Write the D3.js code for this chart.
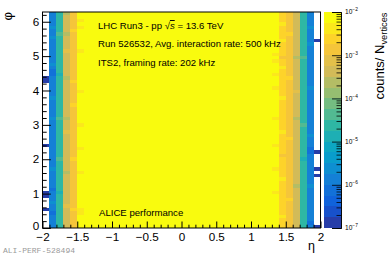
<!DOCTYPE html>
<html><head><meta charset="utf-8">
<script src="https://cdn.jsdelivr.net/npm/d3@7"></script>
<style>body{margin:0;background:#fff}svg{display:block;font-family:"Liberation Sans",Arial,Helvetica,sans-serif}</style>
</head><body><svg id="c" width="391" height="255"></svg>
<script>
// ---------------- data ----------------
const etaRange = [-2, 2];
const phiRange = [0, 2 * Math.PI];
const nEtaBins = 40;
const nPhiBins = 64;
// base log10(counts/N_vertices) for each eta bin (null = empty bin)
const etaBinLog = [null, -5.9, -4.6, -3.4, -2.9, -2.1,
  -1.5, -1.5, -1.5, -1.5, -1.5, -1.5, -1.5, -1.5, -1.5, -1.5, -1.5, -1.5, -1.5, -1.5,
  -1.5, -1.5, -1.5, -1.5, -1.5, -1.5, -1.5, -1.5, -1.5, -1.5, -1.5, -1.5, -1.5,
  -1.9, -2.65, -2.9, -3.4, -4.6, -5.9, null];
// individual cells that differ from their column: [etaBin, phiBin, log10 value]
const cellOverrides = [
  [0, 5, -6.8], [0, 9, -6.9], [0, 10, -6.9], [0, 24, -6.8], [0, 43, -6.9], [0, 44, -6.9],
  [39, 0, -6.8], [39, 15, -6.8], [39, 17, -6.8], [39, 22, -6.8], [39, 55, -6.8],
  [1, 59, -5.65], [1, 56, -5.65], [1, 48, -5.65], [1, 38, -5.65], [1, 32, -5.65], [1, 17, -5.65], [1, 7, -5.65],
  [1, 45, -6.15], [1, 46, -6.15], [1, 11, -6.15], [1, 4, -6.15],
  [2, 57, -4.35], [2, 32, -4.35], [2, 20, -4.35], [2, 45, -4.85], [2, 10, -4.85],
  [3, 63, -3.65], [3, 57, -3.65], [3, 32, -3.65], [3, 16, -3.65], [3, 44, -3.65], [3, 52, -3.15], [3, 28, -3.15], [3, 6, -3.15],
  [4, 58, -2.65], [4, 43, -2.65], [4, 20, -2.65], [4, 5, -2.65], [4, 36, -2.65],
  [5, 61, -2.4], [5, 59, -2.4], [5, 52, -2.4], [5, 40, -2.4], [5, 23, -2.4], [5, 16, -2.4], [5, 5, -2.4], [5, 4, -2.4], [5, 30, -2.4],
  [33, 51, -2.4], [33, 49, -2.4], [33, 45, -2.4], [33, 41, -2.4], [33, 32, -2.4], [33, 24, -2.4], [33, 17, -2.4], [33, 10, -2.4],
  [34, 60, -2.4], [34, 55, -2.4], [34, 47, -2.4], [34, 38, -2.4], [34, 28, -2.4], [34, 14, -2.4], [34, 3, -2.4], [34, 50, -2.9], [34, 21, -2.9],
  [35, 57, -2.65], [35, 44, -2.65], [35, 26, -2.65], [35, 8, -2.65],
  [36, 50, -3.65], [36, 32, -3.65], [36, 12, -3.65], [36, 40, -3.15],
  [37, 50, -4.35], [37, 30, -4.35], [37, 20, -4.85],
  [38, 59, -5.65], [38, 54, -5.65], [38, 41, -5.65], [38, 27, -5.65], [38, 12, -5.65], [38, 22, -6.15], [38, 23, -6.15], [38, 1, -6.15]
];
const zRange = [1e-7, 1e-2];
const nContours = 20;
const xTickValues = [-2, -1.5, -1, -0.5, 0, 0.5, 1, 1.5, 2];
const xTickLabels = ["\u22122", "\u22121.5", "\u22121", "\u22120.5", "0", "0.5", "1", "1.5", "2"];
const yTickValues = [0, 1, 2, 3, 4, 5, 6];
const yTickLabels = ["0", "1", "2", "3", "4", "5", "6"];
const zTickExponents = [-7, -6, -5, -4, -3, -2];
const textLines = ["Run 526532, Avg. interaction rate: 500 kHz", "ITS2, framing rate: 202 kHz"];

// ---------------- palette (ROOT kBird) ----------------
const birdStops = [0, .125, .25, .375, .5, .625, .75, .875, 1];
const birdR = [0.2082, 0.0592, 0.0780, 0.0232, 0.1802, 0.5301, 0.8186, 0.9956, 0.9764];
const birdG = [0.1664, 0.3599, 0.5041, 0.6419, 0.7178, 0.7492, 0.7328, 0.7862, 0.9832];
const birdB = [0.5293, 0.8684, 0.8385, 0.7914, 0.6425, 0.4662, 0.3499, 0.1968, 0.0539];
const bird = d3.scaleLinear().domain(birdStops)
  .range(birdStops.map((s, i) => d3.rgb(birdR[i] * 255, birdG[i] * 255, birdB[i] * 255).toString()))
  .interpolate(d3.interpolateRgb);
const lmin = Math.log10(zRange[0]), lmax = Math.log10(zRange[1]);
const dl = (lmax - lmin) / nContours;
const levelColor = k => bird(Math.floor((k + 0.99) * 255 / nContours) / 254);
const levelOf = l => Math.max(0, Math.min(nContours - 1, Math.floor((l - lmin) / dl)));

// ---------------- layout ----------------
const svg = d3.select("#c");
const L = 42.5, R = 320.5, T = 12, B = 228;
const x = d3.scaleLinear().domain(etaRange).range([L, R]);
const y = d3.scaleLinear().domain(phiRange).range([B, T]);
const z = d3.scaleLog().domain(zRange).range([B, T]);
const PX0 = 323.5, PX1 = 341;

// cells
const dEta = (etaRange[1] - etaRange[0]) / nEtaBins;
const dPhi = (phiRange[1] - phiRange[0]) / nPhiBins;
const ov = new Map(cellOverrides.map(d => [d[0] + "_" + d[1], d[2]]));
const cells = [];
for (let i = 0; i < nEtaBins; i++) for (let j = 0; j < nPhiBins; j++) {
  const k = i + "_" + j;
  const v = ov.has(k) ? ov.get(k) : etaBinLog[i];
  if (v !== null && v !== undefined) cells.push({ i, j, v });
}
svg.append("g").selectAll("rect").data(cells).join("rect")
  .attr("x", d => x(etaRange[0] + d.i * dEta))
  .attr("width", d => x(etaRange[0] + (d.i + 1) * dEta) - x(etaRange[0] + d.i * dEta))
  .attr("y", d => y(phiRange[0] + (d.j + 1) * dPhi))
  .attr("height", d => y(phiRange[0] + d.j * dPhi) - y(phiRange[0] + (d.j + 1) * dPhi))
  .attr("fill", d => levelColor(levelOf(d.v)))
  .attr("shape-rendering", "crispEdges");

// frame
svg.append("rect").attr("x", L).attr("y", T).attr("width", R - L).attr("height", B - T)
  .attr("fill", "none").attr("stroke", "#000").attr("stroke-width", 1);

// x axis
const fs = 11.7;
const gx = svg.append("g").attr("transform", `translate(0,${B})`)
  .call(d3.axisBottom(x).tickValues(xTickValues).tickFormat((d, i) => xTickLabels[i]).tickSize(-6.5).tickPadding(4.6));
const gxm = svg.append("g").attr("transform", `translate(0,${B})`)
  .call(d3.axisBottom(x).tickValues(d3.range(-20, 21).filter(v => v % 5 !== 0).map(v => v / 10)).tickFormat("").tickSize(-3.3));
// y axis
const gy = svg.append("g").attr("transform", `translate(${L},0)`)
  .call(d3.axisLeft(y).tickValues(yTickValues).tickFormat((d, i) => yTickLabels[i]).tickSize(-8.3).tickPadding(3.2));
const gym = svg.append("g").attr("transform", `translate(${L},0)`)
  .call(d3.axisLeft(y).tickValues(d3.range(0, 32).filter(v => v % 5 !== 0).map(v => v / 5)).tickFormat("").tickSize(-4.2));
[gx, gxm, gy, gym].forEach(g => {
  g.select(".domain").remove();
  g.selectAll("line").attr("stroke", "#000");
  g.selectAll("text").attr("font-size", fs).attr("fill", "#000").attr("font-family", null);
  g.attr("font-family", null);
});
// keep the "0" of the phi axis clear of the "-2" of the eta axis
gy.selectAll("text").filter(d => d === 0).attr("dy", "0.1em");

// palette
const levels = d3.range(nContours);
svg.append("g").selectAll("rect").data(levels).join("rect")
  .attr("x", PX0).attr("width", PX1 - PX0)
  .attr("y", k => z(Math.pow(10, lmin + (k + 1) * dl)))
  .attr("height", k => z(Math.pow(10, lmin + k * dl)) - z(Math.pow(10, lmin + (k + 1) * dl)))
  .attr("fill", k => levelColor(k)).attr("shape-rendering", "crispEdges");
const minorZ = [];
zTickExponents.slice(0, -1).forEach(e => { for (let m = 2; m <= 9; m++) minorZ.push(m * Math.pow(10, e)); });
const gz = svg.append("g").attr("transform", `translate(${PX1},0)`)
  .call(d3.axisRight(z).tickValues(zTickExponents.map(e => Math.pow(10, e))).tickFormat("").tickSize(-9));
const gzm = svg.append("g").attr("transform", `translate(${PX1},0)`)
  .call(d3.axisRight(z).tickValues(minorZ).tickFormat("").tickSize(-4.5));
[gz, gzm].forEach(g => { g.select(".domain").attr("stroke", "#000").attr("stroke-width", 0.8); g.selectAll("line").attr("stroke", "#000").attr("stroke-width", 0.8); });
const zl = svg.append("g").selectAll("text").data(zTickExponents).join("text")
  .attr("x", PX1 + 4).attr("y", e => z(Math.pow(10, e)) + 2.4)
  .attr("font-size", 6.6).attr("fill", "#000");
zl.append("tspan").text("10");
zl.append("tspan").attr("dy", -3).attr("font-size", 4.8).text(e => "\u2212" + Math.abs(e));

// axis titles
svg.append("text").attr("transform", `translate(11.8,${T}) rotate(-90)`)
  .attr("text-anchor", "end").attr("font-size", 13).text("\u03c6");
svg.append("text").attr("x", 315).attr("y", 250).attr("text-anchor", "end").attr("font-size", 12.5).text("\u03b7");
const zt = svg.append("text").attr("transform", `translate(383.5,${T + 0.5}) rotate(-90)`)
  .attr("text-anchor", "end").attr("font-size", 13);
zt.append("tspan").text("counts/ N");
zt.append("tspan").attr("dy", 3).attr("font-size", 9.3).text("vertices");

// labels
const t1 = svg.append("text").attr("x", 98).attr("y", 29).attr("font-size", 9.6);
t1.append("tspan").text("LHC Run3 - pp ");
t1.append("tspan").text("\u221a");
t1.append("tspan").attr("font-style", "italic").attr("style", "text-decoration:overline").text("s");
t1.append("tspan").text(" = 13.6 TeV");
svg.append("g").selectAll("text").data(textLines).join("text")
  .attr("x", 98).attr("y", (d, i) => 46.5 + i * 19.5).attr("font-size", 9.6).text(d => d);
svg.append("text").attr("x", 99).attr("y", 215.5).attr("font-size", 9.6).text("ALICE performance");
svg.append("text").attr("x", 3).attr("y", 252.5).attr("font-size", 8)
  .attr("font-family", "'Liberation Mono','DejaVu Sans Mono',monospace").attr("fill", "#9a9a9a")
  .text("ALI-PERF-528494");
</script></body></html>
